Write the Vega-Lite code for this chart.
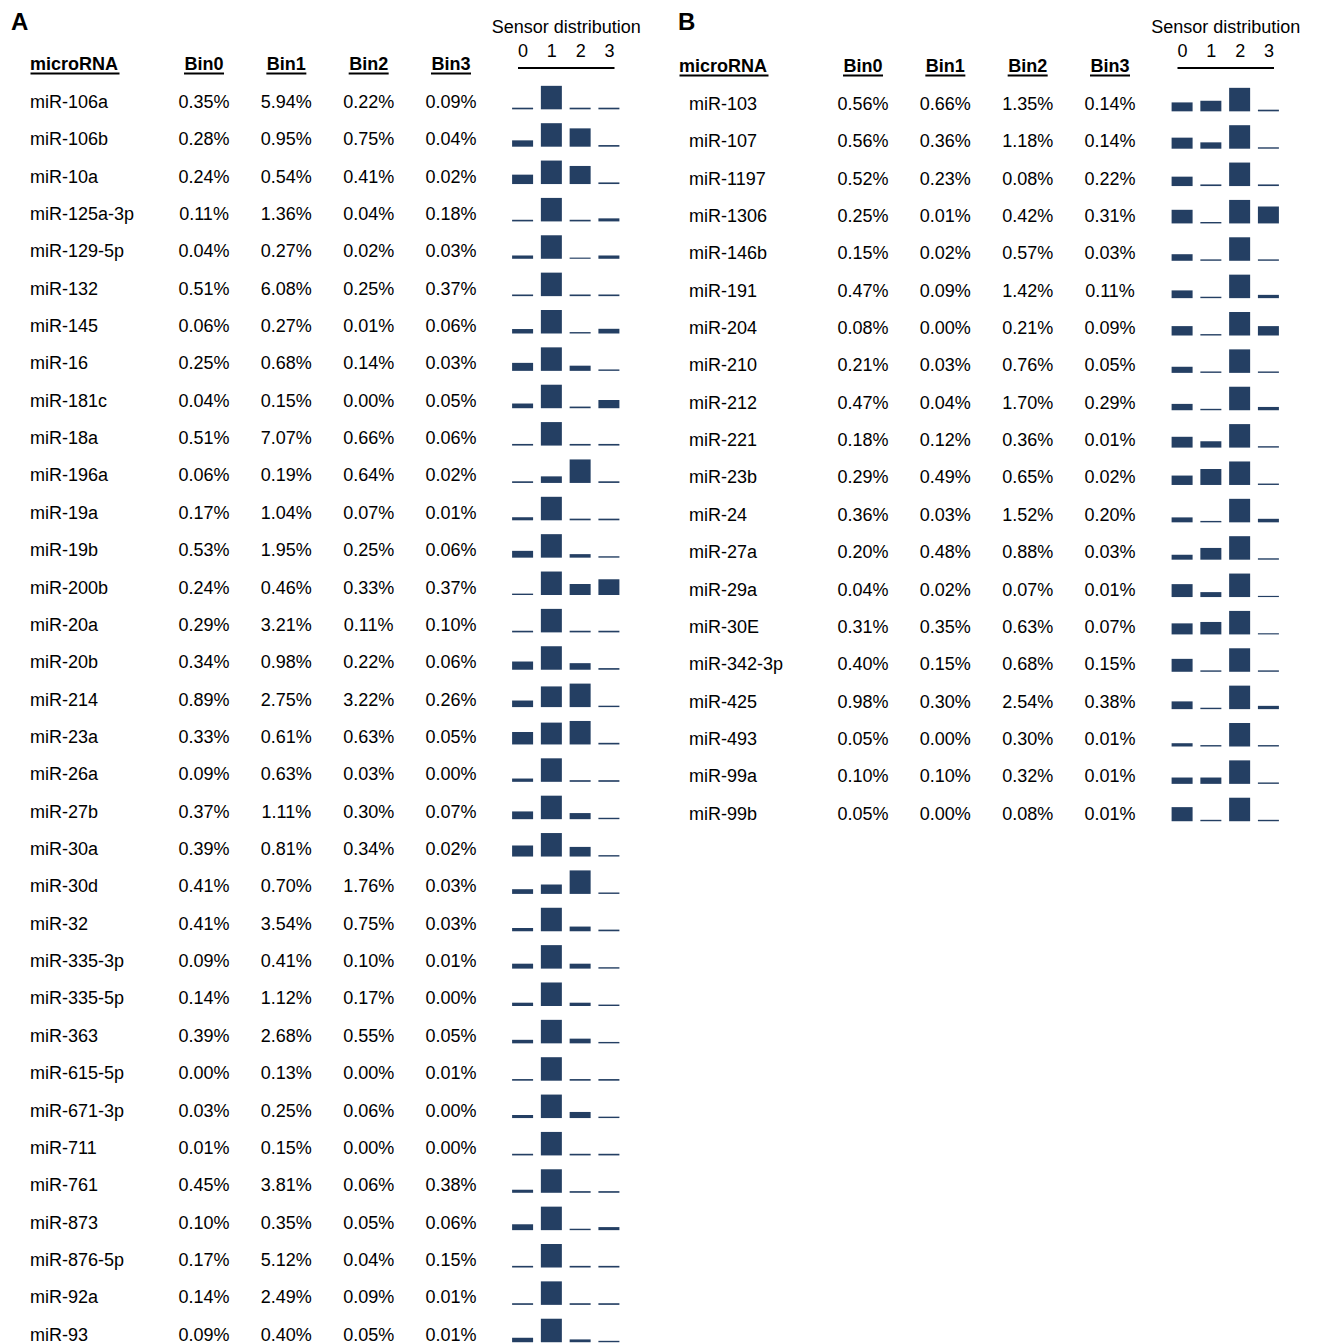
{
  "$schema": "https://vega.github.io/schema/vega-lite/v6.json",
  "padding": {"left": 0, "top": 10, "right": 0, "bottom": 0},
  "background": "white",
  "config": {"view": {"stroke": null}, "font": "Liberation Sans", "text": {"fontSize": 18, "color": "black", "baseline": "middle"}},
  "datasets": {
    "A": [
      {"name": "miR-106a", "Bin0": 0.0035, "Bin1": 0.0594, "Bin2": 0.0022, "Bin3": 0.0009, "S0": 0.07, "S1": 1, "S2": 0.07, "S3": 0.07},
      {"name": "miR-106b", "Bin0": 0.0028, "Bin1": 0.0095, "Bin2": 0.0075, "Bin3": 0.0004, "S0": 0.27, "S1": 1, "S2": 0.78, "S3": 0.07},
      {"name": "miR-10a", "Bin0": 0.0024, "Bin1": 0.0054, "Bin2": 0.0041, "Bin3": 0.0002, "S0": 0.4, "S1": 1, "S2": 0.77, "S3": 0.07},
      {"name": "miR-125a-3p", "Bin0": 0.0011, "Bin1": 0.0136, "Bin2": 0.0004, "Bin3": 0.0018, "S0": 0.07, "S1": 1, "S2": 0.07, "S3": 0.13},
      {"name": "miR-129-5p", "Bin0": 0.0004, "Bin1": 0.0027, "Bin2": 0.0002, "Bin3": 0.0003, "S0": 0.14, "S1": 1, "S2": 0.05, "S3": 0.14},
      {"name": "miR-132", "Bin0": 0.0051, "Bin1": 0.0608, "Bin2": 0.0025, "Bin3": 0.0037, "S0": 0.07, "S1": 1, "S2": 0.07, "S3": 0.07},
      {"name": "miR-145", "Bin0": 0.0006, "Bin1": 0.0027, "Bin2": 0.0001, "Bin3": 0.0006, "S0": 0.19, "S1": 1, "S2": 0.06, "S3": 0.2},
      {"name": "miR-16", "Bin0": 0.0025, "Bin1": 0.0068, "Bin2": 0.0014, "Bin3": 0.0003, "S0": 0.34, "S1": 1, "S2": 0.22, "S3": 0.06},
      {"name": "miR-181c", "Bin0": 0.0004, "Bin1": 0.0015, "Bin2": 0.0, "Bin3": 0.0005, "S0": 0.2, "S1": 1, "S2": 0.07, "S3": 0.35},
      {"name": "miR-18a", "Bin0": 0.0051, "Bin1": 0.0707, "Bin2": 0.0066, "Bin3": 0.0006, "S0": 0.07, "S1": 1, "S2": 0.07, "S3": 0.07},
      {"name": "miR-196a", "Bin0": 0.0006, "Bin1": 0.0019, "Bin2": 0.0064, "Bin3": 0.0002, "S0": 0.07, "S1": 0.28, "S2": 1, "S3": 0.07},
      {"name": "miR-19a", "Bin0": 0.0017, "Bin1": 0.0104, "Bin2": 0.0007, "Bin3": 0.0001, "S0": 0.13, "S1": 1, "S2": 0.07, "S3": 0.07},
      {"name": "miR-19b", "Bin0": 0.0053, "Bin1": 0.0195, "Bin2": 0.0025, "Bin3": 0.0006, "S0": 0.29, "S1": 1, "S2": 0.15, "S3": 0.06},
      {"name": "miR-200b", "Bin0": 0.0024, "Bin1": 0.0046, "Bin2": 0.0033, "Bin3": 0.0037, "S0": 0.06, "S1": 1, "S2": 0.47, "S3": 0.67},
      {"name": "miR-20a", "Bin0": 0.0029, "Bin1": 0.0321, "Bin2": 0.0011, "Bin3": 0.001, "S0": 0.07, "S1": 1, "S2": 0.07, "S3": 0.07},
      {"name": "miR-20b", "Bin0": 0.0034, "Bin1": 0.0098, "Bin2": 0.0022, "Bin3": 0.0006, "S0": 0.35, "S1": 1, "S2": 0.28, "S3": 0.07},
      {"name": "miR-214", "Bin0": 0.0089, "Bin1": 0.0275, "Bin2": 0.0322, "Bin3": 0.0026, "S0": 0.28, "S1": 0.88, "S2": 1, "S3": 0.06},
      {"name": "miR-23a", "Bin0": 0.0033, "Bin1": 0.0061, "Bin2": 0.0063, "Bin3": 0.0005, "S0": 0.53, "S1": 0.93, "S2": 1, "S3": 0.07},
      {"name": "miR-26a", "Bin0": 0.0009, "Bin1": 0.0063, "Bin2": 0.0003, "Bin3": 0.0, "S0": 0.14, "S1": 1, "S2": 0.07, "S3": 0.07},
      {"name": "miR-27b", "Bin0": 0.0037, "Bin1": 0.0111, "Bin2": 0.003, "Bin3": 0.0007, "S0": 0.33, "S1": 1, "S2": 0.26, "S3": 0.06},
      {"name": "miR-30a", "Bin0": 0.0039, "Bin1": 0.0081, "Bin2": 0.0034, "Bin3": 0.0002, "S0": 0.47, "S1": 1, "S2": 0.41, "S3": 0.06},
      {"name": "miR-30d", "Bin0": 0.0041, "Bin1": 0.007, "Bin2": 0.0176, "Bin3": 0.0003, "S0": 0.2, "S1": 0.4, "S2": 1, "S3": 0.06},
      {"name": "miR-32", "Bin0": 0.0041, "Bin1": 0.0354, "Bin2": 0.0075, "Bin3": 0.0003, "S0": 0.14, "S1": 1, "S2": 0.2, "S3": 0.07},
      {"name": "miR-335-3p", "Bin0": 0.0009, "Bin1": 0.0041, "Bin2": 0.001, "Bin3": 0.0001, "S0": 0.21, "S1": 1, "S2": 0.21, "S3": 0.06},
      {"name": "miR-335-5p", "Bin0": 0.0014, "Bin1": 0.0112, "Bin2": 0.0017, "Bin3": 0.0, "S0": 0.14, "S1": 1, "S2": 0.14, "S3": 0.06},
      {"name": "miR-363", "Bin0": 0.0039, "Bin1": 0.0268, "Bin2": 0.0055, "Bin3": 0.0005, "S0": 0.15, "S1": 1, "S2": 0.2, "S3": 0.06},
      {"name": "miR-615-5p", "Bin0": 0.0, "Bin1": 0.0013, "Bin2": 0.0, "Bin3": 0.0001, "S0": 0.07, "S1": 1, "S2": 0.07, "S3": 0.07},
      {"name": "miR-671-3p", "Bin0": 0.0003, "Bin1": 0.0025, "Bin2": 0.0006, "Bin3": 0.0, "S0": 0.13, "S1": 1, "S2": 0.26, "S3": 0.06},
      {"name": "miR-711", "Bin0": 0.0001, "Bin1": 0.0015, "Bin2": 0.0, "Bin3": 0.0, "S0": 0.07, "S1": 1, "S2": 0.07, "S3": 0.07},
      {"name": "miR-761", "Bin0": 0.0045, "Bin1": 0.0381, "Bin2": 0.0006, "Bin3": 0.0038, "S0": 0.13, "S1": 1, "S2": 0.07, "S3": 0.07},
      {"name": "miR-873", "Bin0": 0.001, "Bin1": 0.0035, "Bin2": 0.0005, "Bin3": 0.0006, "S0": 0.25, "S1": 1, "S2": 0.06, "S3": 0.13},
      {"name": "miR-876-5p", "Bin0": 0.0017, "Bin1": 0.0512, "Bin2": 0.0004, "Bin3": 0.0015, "S0": 0.07, "S1": 1, "S2": 0.07, "S3": 0.07},
      {"name": "miR-92a", "Bin0": 0.0014, "Bin1": 0.0249, "Bin2": 0.0009, "Bin3": 0.0001, "S0": 0.07, "S1": 1, "S2": 0.07, "S3": 0.07},
      {"name": "miR-93", "Bin0": 0.0009, "Bin1": 0.004, "Bin2": 0.0005, "Bin3": 0.0001, "S0": 0.19, "S1": 1, "S2": 0.12, "S3": 0.06}
    ],
    "B": [
      {"name": "miR-103", "Bin0": 0.0056, "Bin1": 0.0066, "Bin2": 0.0135, "Bin3": 0.0014, "S0": 0.38, "S1": 0.45, "S2": 1, "S3": 0.07},
      {"name": "miR-107", "Bin0": 0.0056, "Bin1": 0.0036, "Bin2": 0.0118, "Bin3": 0.0014, "S0": 0.47, "S1": 0.27, "S2": 1, "S3": 0.06},
      {"name": "miR-1197", "Bin0": 0.0052, "Bin1": 0.0023, "Bin2": 0.0008, "Bin3": 0.0022, "S0": 0.4, "S1": 0.07, "S2": 1, "S3": 0.07},
      {"name": "miR-1306", "Bin0": 0.0025, "Bin1": 0.0001, "Bin2": 0.0042, "Bin3": 0.0031, "S0": 0.58, "S1": 0.06, "S2": 1, "S3": 0.72},
      {"name": "miR-146b", "Bin0": 0.0015, "Bin1": 0.0002, "Bin2": 0.0057, "Bin3": 0.0003, "S0": 0.28, "S1": 0.06, "S2": 1, "S3": 0.06},
      {"name": "miR-191", "Bin0": 0.0047, "Bin1": 0.0009, "Bin2": 0.0142, "Bin3": 0.0011, "S0": 0.33, "S1": 0.06, "S2": 1, "S3": 0.14},
      {"name": "miR-204", "Bin0": 0.0008, "Bin1": 0.0, "Bin2": 0.0021, "Bin3": 0.0009, "S0": 0.4, "S1": 0.06, "S2": 1, "S3": 0.4},
      {"name": "miR-210", "Bin0": 0.0021, "Bin1": 0.0003, "Bin2": 0.0076, "Bin3": 0.0005, "S0": 0.26, "S1": 0.06, "S2": 1, "S3": 0.06},
      {"name": "miR-212", "Bin0": 0.0047, "Bin1": 0.0004, "Bin2": 0.017, "Bin3": 0.0029, "S0": 0.27, "S1": 0.06, "S2": 1, "S3": 0.14},
      {"name": "miR-221", "Bin0": 0.0018, "Bin1": 0.0012, "Bin2": 0.0036, "Bin3": 0.0001, "S0": 0.46, "S1": 0.27, "S2": 1, "S3": 0.06},
      {"name": "miR-23b", "Bin0": 0.0029, "Bin1": 0.0049, "Bin2": 0.0065, "Bin3": 0.0002, "S0": 0.4, "S1": 0.68, "S2": 1, "S3": 0.06},
      {"name": "miR-24", "Bin0": 0.0036, "Bin1": 0.0003, "Bin2": 0.0152, "Bin3": 0.002, "S0": 0.21, "S1": 0.06, "S2": 1, "S3": 0.15},
      {"name": "miR-27a", "Bin0": 0.002, "Bin1": 0.0048, "Bin2": 0.0088, "Bin3": 0.0003, "S0": 0.21, "S1": 0.5, "S2": 1, "S3": 0.06},
      {"name": "miR-29a", "Bin0": 0.0004, "Bin1": 0.0002, "Bin2": 0.0007, "Bin3": 0.0001, "S0": 0.55, "S1": 0.21, "S2": 1, "S3": 0.05},
      {"name": "miR-30E", "Bin0": 0.0031, "Bin1": 0.0035, "Bin2": 0.0063, "Bin3": 0.0007, "S0": 0.47, "S1": 0.53, "S2": 1, "S3": 0.05},
      {"name": "miR-342-3p", "Bin0": 0.004, "Bin1": 0.0015, "Bin2": 0.0068, "Bin3": 0.0015, "S0": 0.55, "S1": 0.06, "S2": 1, "S3": 0.06},
      {"name": "miR-425", "Bin0": 0.0098, "Bin1": 0.003, "Bin2": 0.0254, "Bin3": 0.0038, "S0": 0.33, "S1": 0.06, "S2": 1, "S3": 0.14},
      {"name": "miR-493", "Bin0": 0.0005, "Bin1": 0.0, "Bin2": 0.003, "Bin3": 0.0001, "S0": 0.14, "S1": 0.06, "S2": 1, "S3": 0.06},
      {"name": "miR-99a", "Bin0": 0.001, "Bin1": 0.001, "Bin2": 0.0032, "Bin3": 0.0001, "S0": 0.27, "S1": 0.27, "S2": 1, "S3": 0.06},
      {"name": "miR-99b", "Bin0": 0.0005, "Bin1": 0.0, "Bin2": 0.0008, "Bin3": 0.0001, "S0": 0.6, "S1": 0.06, "S2": 1, "S3": 0.06}
    ]
  },
  "spacing": 10,
  "hconcat": [
    {
      "width": 650,
      "height": 1285.2,
      "title": {"text": "A", "anchor": "start", "frame": "group", "fontSize": 24, "fontWeight": "bold", "color": "black", "dx": 11, "offset": -16},
      "resolve": {"scale": {"x": "independent"}},
      "layer": [
        {
          "layer": [
            {
              "data": {"values": [{"row": "microRNA", "col": "microRNA"}]},
              "mark": {"type": "text", "align": "left", "dx": -91.7, "fontWeight": "bold"},
              "encoding": {
                "x": {"field": "col", "type": "nominal", "axis": null, "scale": {"type": "point", "domain": ["microRNA", "Bin0", "Bin1", "Bin2", "Bin3"], "range": [121.7, 451], "padding": 0}},
                "y": {"field": "row", "type": "nominal", "axis": null, "scale": {"type": "point", "padding": 0.2, "domain": ["microRNA", "miR-106a", "miR-106b", "miR-10a", "miR-125a-3p", "miR-129-5p", "miR-132", "miR-145", "miR-16", "miR-181c", "miR-18a", "miR-196a", "miR-19a", "miR-19b", "miR-200b", "miR-20a", "miR-20b", "miR-214", "miR-23a", "miR-26a", "miR-27b", "miR-30a", "miR-30d", "miR-32", "miR-335-3p", "miR-335-5p", "miR-363", "miR-615-5p", "miR-671-3p", "miR-711", "miR-761", "miR-873", "miR-876-5p", "miR-92a", "miR-93"]}},
                "text": {"field": "col"}
              }
            },
            {
              "data": {"values": [{"row": "microRNA", "col": "microRNA"}]},
              "mark": {"type": "tick", "orient": "horizontal", "size": 89, "thickness": 2, "xOffset": -46.7, "yOffset": 8, "color": "black", "opacity": 1},
              "encoding": {
                "x": {"field": "col", "type": "nominal"},
                "y": {"field": "row", "type": "nominal"}
              }
            },
            {
              "data": {"values": [{"row": "microRNA", "col": "Bin0"}, {"row": "microRNA", "col": "Bin1"}, {"row": "microRNA", "col": "Bin2"}, {"row": "microRNA", "col": "Bin3"}]},
              "layer": [
                {"mark": {"type": "text", "fontWeight": "bold"}, "encoding": {"x": {"field": "col", "type": "nominal"}, "y": {"field": "row", "type": "nominal"}, "text": {"field": "col"}}},
                {"mark": {"type": "tick", "orient": "horizontal", "size": 40, "thickness": 2, "yOffset": 8, "color": "black", "opacity": 1}, "encoding": {"x": {"field": "col", "type": "nominal"}, "y": {"field": "row", "type": "nominal"}}}
              ]
            },
            {
              "data": {"name": "A"},
              "mark": {"type": "text", "align": "left", "dx": -91.7},
              "encoding": {
                "x": {"datum": "microRNA", "type": "nominal"},
                "y": {"field": "name", "type": "nominal"},
                "text": {"field": "name"}
              }
            },
            {
              "data": {"name": "A"},
              "transform": [{"fold": ["Bin0", "Bin1", "Bin2", "Bin3"], "as": ["col", "v"]}],
              "mark": {"type": "text"},
              "encoding": {
                "x": {"field": "col", "type": "nominal"},
                "y": {"field": "name", "type": "nominal"},
                "text": {"field": "v", "type": "quantitative", "format": ".2%"}
              }
            }
          ]
        },
        {
          "data": {"name": "A"},
          "transform": [{"fold": ["S0", "S1", "S2", "S3"], "as": ["bin", "h"]}],
          "mark": {"type": "tick", "orient": "vertical", "thickness": 21, "color": "#243F63", "opacity": 1},
          "encoding": {
            "x": {"field": "bin", "type": "nominal", "scale": {"type": "point", "domain": ["S0", "S1", "S2", "S3"], "range": [517.5, 614], "padding": 0.177},
                  "axis": {"orient": "top", "title": "Sensor distribution", "titleFontSize": 18, "titleFontWeight": "normal", "titleColor": "black", "titlePadding": 6, "labelExpr": "replace(datum.label, 'S', '')", "labelFontSize": 18, "labelColor": "black", "labelAngle": 0, "labelPadding": 7, "ticks": false, "tickSize": 0, "domainColor": "black", "domainWidth": 2, "offset": -9.5, "grid": false}},
            "y": {"field": "name", "type": "nominal"},
            "yOffset": {"field": "h", "type": "quantitative", "scale": {"domain": [0, 1], "range": [6.5, -5.25]}},
            "size": {"field": "h", "type": "quantitative", "scale": {"domain": [0, 1], "range": [0, 23.5]}, "legend": null}
          }
        }
      ]
    },
    {
      "width": 657,
      "height": 766.2,
      "title": {"text": "B", "anchor": "start", "frame": "group", "fontSize": 24, "fontWeight": "bold", "color": "black", "dx": 18, "offset": -16},
      "resolve": {"scale": {"x": "independent"}},
      "layer": [
        {
          "layer": [
            {
              "data": {"values": [{"row": "microRNA", "col": "microRNA"}]},
              "mark": {"type": "text", "align": "left", "dx": -101.7, "fontWeight": "bold"},
              "encoding": {
                "x": {"field": "col", "type": "nominal", "axis": null, "scale": {"type": "point", "domain": ["microRNA", "Bin0", "Bin1", "Bin2", "Bin3"], "range": [120.7, 450], "padding": 0}},
                "y": {"field": "row", "type": "nominal", "axis": null, "scale": {"type": "point", "padding": 0.2535, "domain": ["microRNA", "miR-103", "miR-107", "miR-1197", "miR-1306", "miR-146b", "miR-191", "miR-204", "miR-210", "miR-212", "miR-221", "miR-23b", "miR-24", "miR-27a", "miR-29a", "miR-30E", "miR-342-3p", "miR-425", "miR-493", "miR-99a", "miR-99b"]}},
                "text": {"field": "col"}
              }
            },
            {
              "data": {"values": [{"row": "microRNA", "col": "microRNA"}]},
              "mark": {"type": "tick", "orient": "horizontal", "size": 89, "thickness": 2, "xOffset": -56.7, "yOffset": 8, "color": "black", "opacity": 1},
              "encoding": {
                "x": {"field": "col", "type": "nominal"},
                "y": {"field": "row", "type": "nominal"}
              }
            },
            {
              "data": {"values": [{"row": "microRNA", "col": "Bin0"}, {"row": "microRNA", "col": "Bin1"}, {"row": "microRNA", "col": "Bin2"}, {"row": "microRNA", "col": "Bin3"}]},
              "layer": [
                {"mark": {"type": "text", "fontWeight": "bold"}, "encoding": {"x": {"field": "col", "type": "nominal"}, "y": {"field": "row", "type": "nominal"}, "text": {"field": "col"}}},
                {"mark": {"type": "tick", "orient": "horizontal", "size": 40, "thickness": 2, "yOffset": 8, "color": "black", "opacity": 1}, "encoding": {"x": {"field": "col", "type": "nominal"}, "y": {"field": "row", "type": "nominal"}}}
              ]
            },
            {
              "data": {"name": "B"},
              "mark": {"type": "text", "align": "left", "dx": -91.7},
              "encoding": {
                "x": {"datum": "microRNA", "type": "nominal"},
                "y": {"field": "name", "type": "nominal"},
                "text": {"field": "name"}
              }
            },
            {
              "data": {"name": "B"},
              "transform": [{"fold": ["Bin0", "Bin1", "Bin2", "Bin3"], "as": ["col", "v"]}],
              "mark": {"type": "text"},
              "encoding": {
                "x": {"field": "col", "type": "nominal"},
                "y": {"field": "name", "type": "nominal"},
                "text": {"field": "v", "type": "quantitative", "format": ".2%"}
              }
            }
          ]
        },
        {
          "data": {"name": "B"},
          "transform": [{"fold": ["S0", "S1", "S2", "S3"], "as": ["bin", "h"]}],
          "mark": {"type": "tick", "orient": "vertical", "thickness": 21, "color": "#243F63", "opacity": 1},
          "encoding": {
            "x": {"field": "bin", "type": "nominal", "scale": {"type": "point", "domain": ["S0", "S1", "S2", "S3"], "range": [517, 613.5], "padding": 0.177},
                  "axis": {"orient": "top", "title": "Sensor distribution", "titleFontSize": 18, "titleFontWeight": "normal", "titleColor": "black", "titlePadding": 6, "labelExpr": "replace(datum.label, 'S', '')", "labelFontSize": 18, "labelColor": "black", "labelAngle": 0, "labelPadding": 7, "ticks": false, "tickSize": 0, "domainColor": "black", "domainWidth": 2, "offset": -9.5, "grid": false}},
            "y": {"field": "name", "type": "nominal"},
            "yOffset": {"field": "h", "type": "quantitative", "scale": {"domain": [0, 1], "range": [6.5, -5.25]}},
            "size": {"field": "h", "type": "quantitative", "scale": {"domain": [0, 1], "range": [0, 23.5]}, "legend": null}
          }
        }
      ]
    }
  ]
}
